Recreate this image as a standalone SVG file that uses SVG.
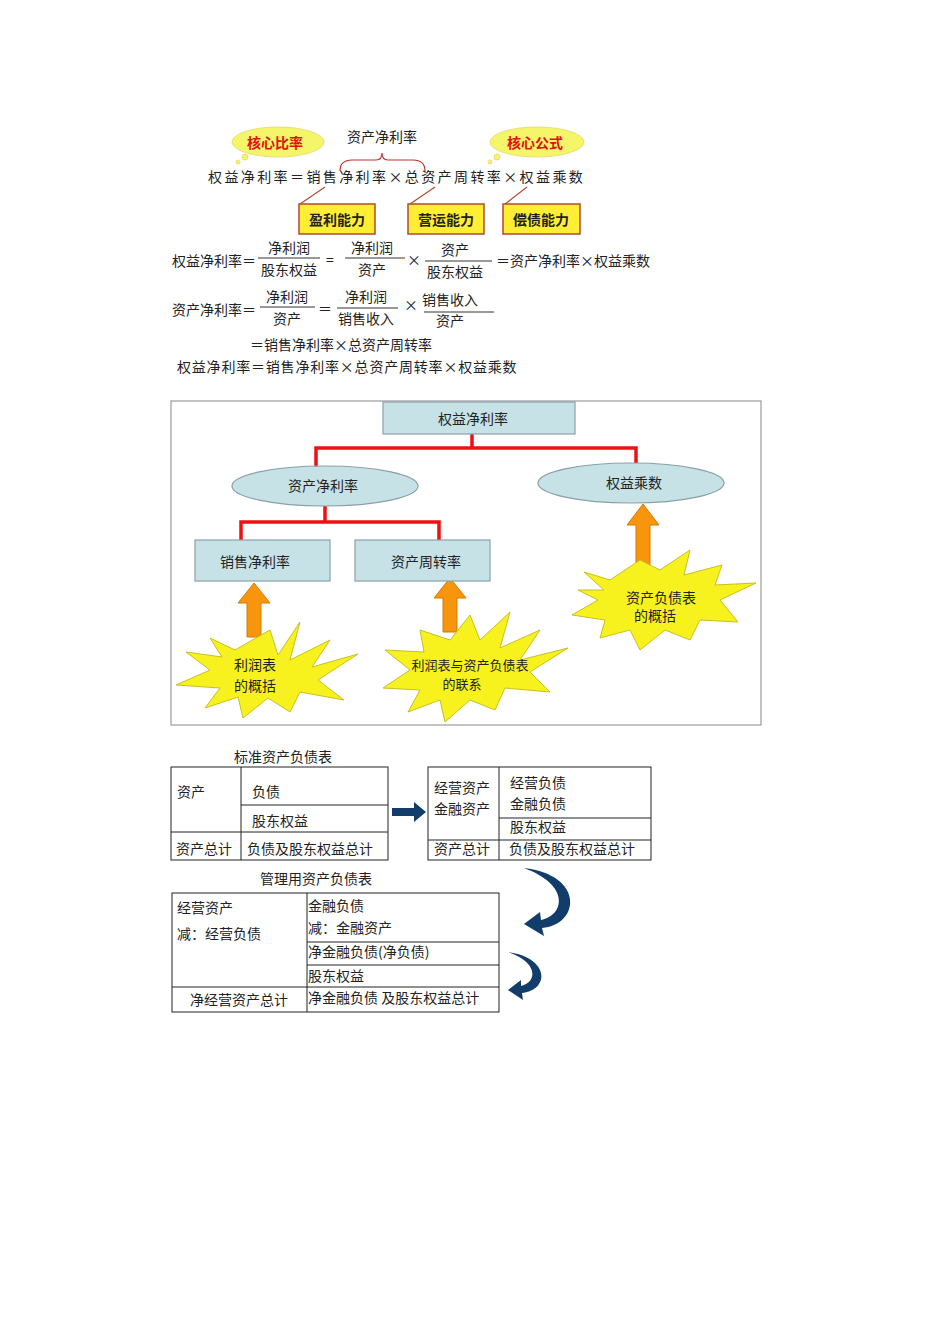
<svg xmlns="http://www.w3.org/2000/svg" width="950" height="1344" viewBox="0 0 950 1344">
<style>
text{font-family:"Noto Sans CJK SC","Liberation Sans",sans-serif;font-size:14px;fill:#222}
.c{text-anchor:middle}
.b{font-weight:bold}
.cl{fill:#f5f56a;stroke:#e8e070;stroke-width:1}
.yb{fill:#ffee33;stroke:#b04a30;stroke-width:1.5}
.bar{stroke:#333;stroke-width:1}
.nd{fill:#c6e2e6;stroke:#8aa0a8;stroke-width:1.2}
.red{fill:none;stroke:#ee1111;stroke-width:3.5}
.oa{fill:#f7960d;stroke:#d57a00;stroke-width:1}
.st{fill:#f7f21d;stroke:#c8c020;stroke-width:1}
.tb{fill:none;stroke:#222;stroke-width:1}
.blu{fill:#123d6a}
</style>
<rect width="950" height="1344" fill="#fff"/>
<g id="formulas">
<ellipse class="cl" cx="278" cy="142" rx="46" ry="15"/>
<circle class="cl" cx="245" cy="157" r="3"/><circle class="cl" cx="238" cy="162" r="2"/>
<text x="275" y="148" class="c b" style="fill:#e01010">核心比率</text>
<ellipse class="cl" cx="537" cy="142" rx="47" ry="15"/>
<circle class="cl" cx="497" cy="157" r="3"/><circle class="cl" cx="490" cy="162" r="2"/>
<text x="535" y="148" class="c b" style="fill:#e01010">核心公式</text>
<text x="382" y="142" class="c">资产净利率</text>
<path d="M340,171 Q340,160 352,160 L376,160 Q382,160 382,153 Q382,160 388,160 L413,160 Q425,160 425,171" fill="none" stroke="#c03030" stroke-width="1.2"/>
<text x="208" y="182" style="letter-spacing:2.4px">权益净利率＝销售净利率×总资产周转率×权益乘数</text>
<path d="M300,204 L325,187 M410,204 L435,187 M505,204 L527,187" stroke="#b04a30" stroke-width="1.2"/>
<rect class="yb" x="299" y="204" width="76" height="30"/><text x="337" y="225" class="c b">盈利能力</text>
<rect class="yb" x="408" y="204" width="76" height="30"/><text x="446" y="225" class="c b">营运能力</text>
<rect class="yb" x="503" y="204" width="77" height="30"/><text x="541" y="225" class="c b">偿债能力</text>

<text x="172" y="266">权益净利率＝</text>
<text x="289" y="253" class="c">净利润</text><line class="bar" x1="258" y1="258" x2="320" y2="258"/><text x="289" y="275" class="c">股东权益</text>
<text x="330" y="265" class="c">=</text>
<text x="372" y="253" class="c">净利润</text><line class="bar" x1="345" y1="258" x2="405" y2="258"/><text x="372" y="275" class="c">资产</text>
<text x="414" y="265" class="c">×</text>
<text x="455" y="255" class="c">资产</text><line class="bar" x1="425" y1="261" x2="492" y2="261"/><text x="455" y="277" class="c">股东权益</text>
<text x="496" y="266">＝资产净利率×权益乘数</text>

<text x="172" y="315">资产净利率＝</text>
<text x="287" y="302" class="c">净利润</text><line class="bar" x1="260" y1="307" x2="315" y2="307"/><text x="287" y="324" class="c">资产</text>
<text x="325" y="314" class="c">＝</text>
<text x="366" y="302" class="c">净利润</text><line class="bar" x1="337" y1="308" x2="398" y2="308"/><text x="366" y="324" class="c">销售收入</text>
<text x="411" y="310" class="c">×</text>
<text x="450" y="305" class="c">销售收入</text><line class="bar" x1="424" y1="312" x2="494" y2="312"/><text x="450" y="326" class="c">资产</text>
<text x="250" y="350">＝销售净利率×总资产周转率</text>
<text x="177" y="372" style="letter-spacing:0.8px">权益净利率＝销售净利率×总资产周转率×权益乘数</text>
</g>

<rect x="171" y="401" width="590" height="324" fill="none" stroke="#888" stroke-width="1"/>
<g id="connectors">
<path class="red" d="M472,434 V448 M316,468 V448 H636 V463"/>
<path class="red" d="M325,506 V522 M241,541 V522 H439 V541"/>
<path class="oa" d="M247,637 V603 H238 L254,583 L270,603 H261 V637 Z"/>
<path class="oa" d="M443,632 V598 H434 L450,578 L466,598 H457 V632 Z"/>
<path class="oa" d="M636,577 V525 H627 L643,504 L659,525 H650 V577 Z"/>
<path class="blu" d="M392,808 H414 V802 L426,812 L414,822 V816 H392 Z"/>
<path class="blu" d="M524,868 C585,875 580,925 542,928 L544,936 L524,924 L540,912 L541,920 C565,915 570,885 524,868 Z"/>
<path class="blu" d="M508,952 C550,958 550,990 522,993 L523,1000 L508,990 L521,980 L521,986 C538,982 538,962 508,952 Z"/>
</g>
<g id="n-roe"><rect class="nd" x="383" y="402" width="192" height="32"/><text x="473" y="424" class="c">权益净利率</text></g>
<g id="n-roa"><ellipse class="nd" cx="325" cy="486" rx="93" ry="20"/><text x="323" y="491" class="c">资产净利率</text></g>
<g id="n-em"><ellipse class="nd" cx="631" cy="483" rx="93" ry="20"/><text x="634" y="488" class="c">权益乘数</text></g>
<g id="n-npm"><rect class="nd" x="195" y="540" width="135" height="41"/><text x="255" y="567" class="c">销售净利率</text></g>
<g id="n-ato"><rect class="nd" x="355" y="540" width="135" height="41"/><text x="426" y="567" class="c">资产周转率</text></g>
<g id="s1"><polygon class="st" points="210,638 235,650 270,630 278,655 300,622 290,660 330,640 312,667 358,654 318,680 344,700 300,692 290,712 268,698 243,718 238,697 205,708 220,688 176,685 210,670 186,652 222,657"/>
<text x="255" y="670" class="c">利润表</text><text x="255" y="691" class="c">的概括</text></g>
<g id="s2"><polygon class="st" points="420,630 450,640 470,615 480,640 510,612 500,648 540,630 520,660 568,648 530,672 550,692 505,688 495,710 470,700 445,722 440,700 408,712 420,690 383,688 410,670 385,650 424,652"/>
<text x="470" y="670" class="c" style="font-size:13px">利润表与资产负债表</text><text x="462" y="689" class="c" style="font-size:13px">的联系</text></g>
<g id="s3"><polygon class="st" points="584,572 610,580 640,560 660,570 690,550 684,575 722,565 715,585 756,583 720,600 738,622 700,620 690,640 665,630 640,650 630,630 600,638 605,620 572,615 598,600 578,590 604,590"/>
<text x="661" y="603" class="c">资产负债表</text><text x="655" y="621" class="c">的概括</text></g>

<g id="t1">
<text x="283" y="762" class="c">标准资产负债表</text>
<rect class="tb" x="171" y="767" width="217" height="93"/>
<path class="tb" d="M241,767 V860 M241,805 H388 M171,832 H388"/>
<text x="177" y="797">资产</text><text x="252" y="797">负债</text><text x="252" y="826">股东权益</text>
<text x="176" y="854">资产总计</text><text x="247" y="854">负债及股东权益总计</text>
</g>
<g id="t2">
<rect class="tb" x="428" y="767" width="223" height="93"/>
<path class="tb" d="M499,767 V860 M499,818 H651 M428,840 H651"/>
<text x="434" y="793">经营资产</text><text x="434" y="814">金融资产</text>
<text x="510" y="788">经营负债</text><text x="510" y="809">金融负债</text><text x="510" y="832">股东权益</text>
<text x="434" y="854">资产总计</text><text x="509" y="854">负债及股东权益总计</text>
</g>
<g id="t3">
<text x="316" y="884" class="c">管理用资产负债表</text>
<rect class="tb" x="172" y="893" width="327" height="119"/>
<path class="tb" d="M307,893 V1012 M307,942 H499 M307,965 H499 M172,987 H499"/>
<text x="177" y="913">经营资产</text><text x="177" y="939">减：经营负债</text>
<text x="308" y="911">金融负债</text><text x="308" y="933">减：金融资产</text>
<text x="308" y="957">净金融负债(净负债)</text><text x="308" y="981">股东权益</text>
<text x="190" y="1005">净经营资产总计</text><text x="308" y="1003">净金融负债 及股东权益总计</text>
</g>
</svg>
